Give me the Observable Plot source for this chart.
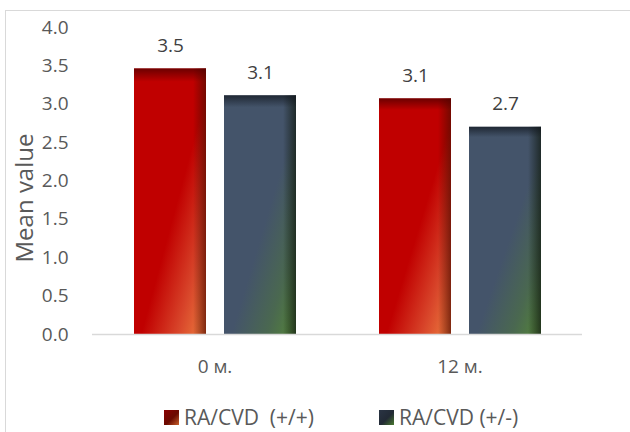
<!DOCTYPE html>
<html>
<head>
<meta charset="utf-8">
<script src="https://cdn.jsdelivr.net/npm/d3@7"></script>
<script src="https://cdn.jsdelivr.net/npm/@observablehq/plot@0.6"></script>
<style>
  html, body { margin: 0; padding: 0; background: #fff; width: 630px; height: 432px; overflow: hidden; }
  #wrap { position: relative; width: 630px; height: 432px; font-family: "Open Sans", sans-serif; }
  #frame { position: absolute; left: 5px; top: 10px; width: 700px; height: 500px; border: 1.5px solid #d9d9d9; box-sizing: border-box; }
  #chart { position: absolute; left: 0; top: 0; }
  .legend { position: absolute; top: 403px; display: flex; align-items: center; font-size: 21px; color: #595959; white-space: pre; }
  .sw { width: 15px; height: 15px; margin-right: 5px; }
</style>
</head>
<body>
<div id="wrap">
  <div id="frame"></div>
  <div id="chart"></div>
</div>
<script>
const periods = ["0 м.", "12 м."];
const seriesNames = ["RA/CVD  (+/+)", "RA/CVD (+/-)"];
const valuesPos = [3.46, 3.07];
const valuesNeg = [3.11, 2.70];
const labelsPos = ["3.5", "3.1"];
const labelsNeg = ["3.1", "2.7"];
const yTicks = [0, 0.5, 1, 1.5, 2, 2.5, 3, 3.5, 4];

const rows = periods.flatMap((p, i) => [
  {period: p, series: seriesNames[0], value: valuesPos[i], label: labelsPos[i]},
  {period: p, series: seriesNames[1], value: valuesNeg[i], label: labelsNeg[i]}
]);
const posRows = rows.filter(d => d.series === seriesNames[0]);
const negRows = rows.filter(d => d.series === seriesNames[1]);

const barLayers = (data, base) => [
  Plot.barY(data, {fx: "period", x: "series", y: "value", fill: `url(#${base}Base)`}),
  Plot.barY(data, {fx: "period", x: "series", y: "value", fill: `url(#${base}Right)`}),
  Plot.barY(data, {fx: "period", x: "series", y: "value", fill: `url(#${base}Top)`})
];

const chart = Plot.plot({
  width: 630,
  height: 390,
  marginTop: 27,
  marginBottom: 56,
  marginLeft: 92,
  marginRight: 48,
  style: {fontFamily: "Open Sans, sans-serif", fontSize: "19px", color: "#595959", background: "transparent", overflow: "visible"},
  fx: {domain: periods, padding: 0},
  x: {domain: seriesNames, paddingInner: 0.2, paddingOuter: 0.461},
  y: {domain: [0, 4]},
  marks: [
    Plot.axisY({ticks: yTicks, tickFormat: d => d.toFixed(1), tickSize: 0, tickPadding: 24,
      label: null, fontSize: 19}),
    Plot.axisY({ticks: [], tickSize: 0, label: "Mean value", labelAnchor: "center", labelArrow: "none",
      labelOffset: 77, fontSize: 24}),
    Plot.axisFx({anchor: "bottom", tickSize: 0, tickPadding: 25, label: null, fontSize: 19}),
    Plot.axisX({ticks: [], label: null}),
    ...barLayers(posRows, "red"),
    ...barLayers(negRows, "blue"),
    Plot.ruleY([0], {stroke: "#d9d9d9", strokeWidth: 1.5}),
    Plot.text(rows, {fx: "period", x: "series", y: "value", text: "label", dy: -23, fontSize: 19, fill: "#404040"})
  ]
});

// shift the y-axis title down (centred on the whole chart area like the original)
chart.querySelectorAll('[aria-label="y-axis label"]').forEach(g => {
  const prev = g.getAttribute("transform") || "";
  g.setAttribute("transform", prev + " translate(0,17)");
});

// gradient definitions
const defs = `
<defs>
  <linearGradient id="redBase" x1="0" y1="0" x2="1" y2="1">
    <stop offset="0" stop-color="#c00000"/>
    <stop offset="0.55" stop-color="#c00000"/>
    <stop offset="0.8" stop-color="#d8452a"/>
    <stop offset="1" stop-color="#ee8040"/>
  </linearGradient>
  <linearGradient id="redRight" x1="0" y1="0" x2="1" y2="0">
    <stop offset="0" stop-color="#5a0c00" stop-opacity="0"/>
    <stop offset="0.82" stop-color="#5a0c00" stop-opacity="0"/>
    <stop offset="1" stop-color="#5a0c00" stop-opacity="0.75"/>
  </linearGradient>
  <linearGradient id="redTop" x1="0" y1="0" x2="0" y2="1">
    <stop offset="0" stop-color="#500000" stop-opacity="0.75"/>
    <stop offset="0.05" stop-color="#500000" stop-opacity="0"/>
    <stop offset="1" stop-color="#500000" stop-opacity="0"/>
  </linearGradient>
  <linearGradient id="blueBase" x1="0" y1="0" x2="1" y2="1">
    <stop offset="0" stop-color="#44546a"/>
    <stop offset="0.55" stop-color="#44546a"/>
    <stop offset="0.8" stop-color="#4a6850"/>
    <stop offset="1" stop-color="#558638"/>
  </linearGradient>
  <linearGradient id="blueRight" x1="0" y1="0" x2="1" y2="0">
    <stop offset="0" stop-color="#131c14" stop-opacity="0"/>
    <stop offset="0.82" stop-color="#131c14" stop-opacity="0"/>
    <stop offset="1" stop-color="#131c14" stop-opacity="0.75"/>
  </linearGradient>
  <linearGradient id="blueTop" x1="0" y1="0" x2="0" y2="1">
    <stop offset="0" stop-color="#10151c" stop-opacity="0.7"/>
    <stop offset="0.05" stop-color="#10151c" stop-opacity="0"/>
    <stop offset="1" stop-color="#10151c" stop-opacity="0"/>
  </linearGradient>
</defs>`;
chart.insertAdjacentHTML("afterbegin", defs);
document.getElementById("chart").appendChild(chart);

// legend
const wrap = document.getElementById("wrap");
const legendItems = [
  {name: seriesNames[0], left: 164, grad: "linear-gradient(135deg, #8a0000 0%, #6a0a00 55%, #c8602a 100%)"},
  {name: seriesNames[1], left: 379, grad: "linear-gradient(135deg, #2a3444 0%, #222a35 55%, #4a7a30 100%)"}
];
for (const item of legendItems) {
  const div = document.createElement("div");
  div.className = "legend";
  div.style.left = item.left + "px";
  const sw = document.createElement("div");
  sw.className = "sw";
  sw.style.background = item.grad;
  const t = document.createElement("span");
  t.textContent = item.name;
  div.appendChild(sw);
  div.appendChild(t);
  wrap.appendChild(div);
}
</script>
</body>
</html>
